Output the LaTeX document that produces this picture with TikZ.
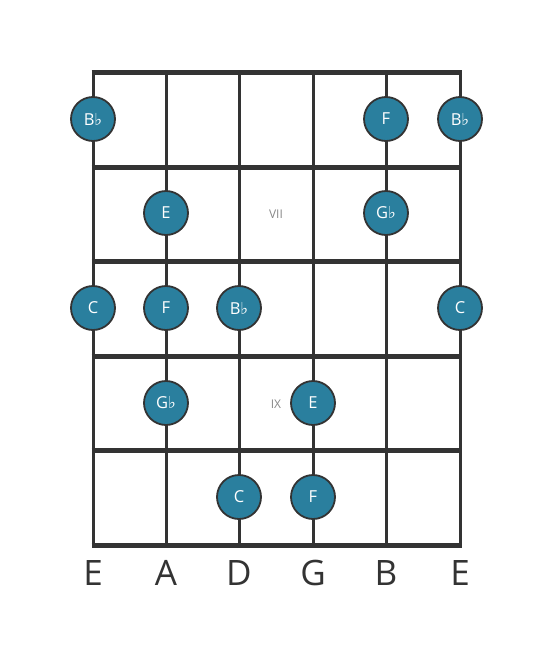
\documentclass[tikz,border=0pt]{standalone}
\usepackage{fontspec}
\setmainfont{Open Sans}
\newfontfamily\flatfont{DejaVu Sans}
\usetikzlibrary{positioning}
\definecolor{boardgray}{HTML}{333333}
\definecolor{notefill}{HTML}{2A7F9E}
\definecolor{labelgray}{HTML}{888888}
\tikzset{note/.style={circle,draw=boardgray,line width=1.8pt,fill=notefill,text=white,
    minimum size=44pt,inner sep=0pt,font=\fontsize{16.5}{16.5}\selectfont}}
\tikzset{fretnum/.style={text=labelgray,font=\fontsize{12}{12}\selectfont}}
\tikzset{tuning/.style={text=boardgray,font=\fontsize{35}{35}\selectfont}}
\def\fl{{\flatfont\char"266D}}

\begin{document}
\begin{tikzpicture}[x=1pt,y=-1pt]
        \useasboundingbox (0,0) rectangle (553,656);
        % strings
        \foreach \x in {93,166,239,313,386,460}
          \draw[boardgray,line width=3pt] (\x,70) -- (\x,547);
        % frets
        \foreach \y in {72,167,261,356,450,545}
          \draw[boardgray,line width=5pt] (91.5,\y) -- (461.5,\y);
        % fret numbers
        \node[fretnum](vii) at (276,214){VII};
        \node[fretnum](ix) at (276,404){IX};
        % notes
        \node[note](n1a) at (93,119){B\fl};
        \node[note](n1b) at (386,119){F};
        \node[note](n1c) at (460,119){B\fl};
        \node[note](n2a) at (166,213){E};
        \node[note](n2b) at (386,213){G\fl};
        \node[note](n3a) at (93,308){C};
        \node[note](n3b) at (166,308){F};
        \node[note](n3c) at (239,308){B\fl};
        \node[note](n3d) at (460,308){C};
        \node[note](n4a) at (166,403){G\fl};
        \node[note](n4b) at (313,403){E};
        \node[note](n5a) at (239,497){C};
        \node[note](n5b) at (313,497){F};
        % tuning
        \foreach \x/\s [count=\i] in {93/E,166/A,239/D,313/G,386/B,460/E}
          \node[tuning](t\i) at (\x,573){\s};
      \end{tikzpicture}
\end{document}
